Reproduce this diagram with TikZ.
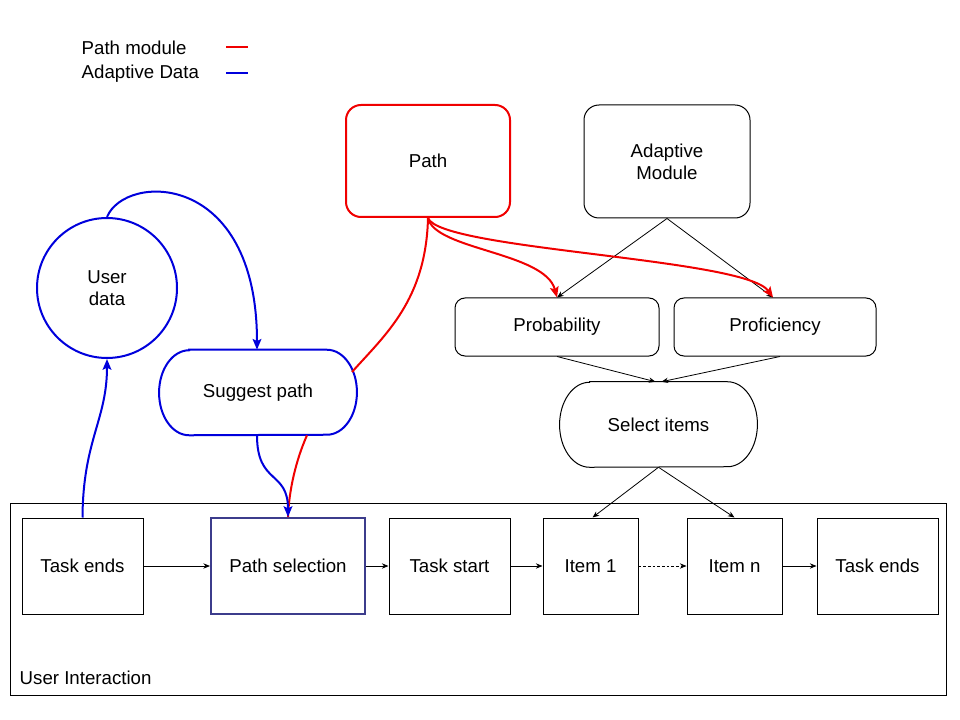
\documentclass[tikz,border=0pt]{standalone}
\usepackage{fontspec}
\setmainfont{Liberation Sans}
\usetikzlibrary{arrows.meta,calc}
\definecolor{pred}{RGB}{240,0,0}
\definecolor{pblue}{RGB}{0,0,220}
\definecolor{pselb}{RGB}{60,60,140}
\begin{document}
\begin{tikzpicture}[x=0.75pt,y=-0.75pt,
  font=\fontsize{14}{16.5}\selectfont,
  box/.style={draw, line width=0.75pt, inner sep=0pt, align=center, minimum height=72pt},
  rbox/.style={draw, line width=0.75pt, inner sep=0pt, align=center},
  ghost/.style={inner sep=0pt, align=center, minimum width=148pt, minimum height=63.75pt},
  arr/.style={-{Stealth[length=5pt,width=4pt]}, line width=0.6pt},
  redc/.style={pred, line width=1.5pt},
  bluec/.style={pblue, line width=1.5pt},
  carr/.style={-{Stealth[length=8pt,width=6.5pt,inset=1.5pt]}}
]
\useasboundingbox (0,0) rectangle (960,720);

% legend
\node[anchor=west] (lg1) at (77,48) {Path module};
\node[anchor=west] (lg2) at (77,74) {Adaptive Data};
\coordinate (l1a) at (226,47); \coordinate (l1b) at (248,47);
\coordinate (l2a) at (226,73); \coordinate (l2b) at (248,73);
\draw[pred, line width=1pt] (l1a) -- (l1b);
\draw[pblue, line width=1pt] (l2a) -- (l2b);

% user interaction frame
\node[draw, line width=0.75pt, minimum width=702pt, minimum height=144pt, inner sep=0pt] (ui) at (478,599) {};
\node[anchor=west] (uil) at (15,678) {User Interaction};

% top nodes
\node[rbox, draw=pred, line width=1.5pt, rounded corners=11.25pt, minimum width=123pt, minimum height=84pt] (path) at (428,161) {Path};
\node[rbox, rounded corners=11.25pt, minimum width=124.5pt, minimum height=84.75pt] (am) at (667,161.5) {Adaptive\\Module};
\node[draw=pblue, line width=1.5pt, circle, minimum size=105pt, inner sep=0pt, align=center] (ud) at (107,288) {User\\data};

\node[rbox, rounded corners=7.5pt, minimum width=153pt, minimum height=43.5pt] (prob) at (557,327) {Probability};
\node[rbox, rounded corners=7.5pt, minimum width=151.5pt, minimum height=43.5pt] (prof) at (775,327) {Proficiency};

% stadium nodes
\node[ghost] (sp) at (258,392.5) {Suggest path};
\draw[pblue, line width=1.5pt] ($(sp.north west)+(30,0)$) -- ($(sp.north east)+(-30,0)$)
  arc[start angle=90, end angle=-90, x radius=22.5pt, y radius=31.875pt]
  -- ($(sp.south west)+(30,0)$)
  arc[start angle=270, end angle=90, x radius=22.5pt, y radius=31.875pt] -- cycle;
\node[ghost] (si) at (658.5,424.5) {Select items};
\draw[line width=0.75pt] ($(si.north west)+(30,0)$) -- ($(si.north east)+(-30,0)$)
  arc[start angle=90, end angle=-90, x radius=22.5pt, y radius=31.875pt]
  -- ($(si.south west)+(30,0)$)
  arc[start angle=270, end angle=90, x radius=22.5pt, y radius=31.875pt] -- cycle;

% bottom row
\node[box, minimum width=90.75pt] (te1) at (82.5,566) {Task ends};
\node[box, draw=pselb, line width=1.5pt, minimum width=115.5pt] (ps) at (288,566) {Path selection};
\node[box, minimum width=90.75pt] (ts) at (449.5,566) {Task start};
\node[box, minimum width=71.25pt] (i1) at (590.5,566) {Item 1};
\node[box, minimum width=71.25pt] (in) at (734.5,566) {Item n};
\node[box, minimum width=90.75pt] (te2) at (877.5,566) {Task ends};

% black connectors
\draw[arr] (te1) -- (ps);
\draw[arr] (ps) -- (ts);
\draw[arr] (ts) -- (i1);
\draw[arr, dash pattern=on 2pt off 1.5pt] (i1) -- (in);
\draw[arr] (in) -- (te2);
\draw[arr] (am.south) -- (prob.north);
\draw[arr] (am.south) -- ($(prof.north)+(-2,0)$);
\draw[arr] (prob.south) -- ($(si.north)+(-3,0)$);
\draw[arr] ($(prof.south)+(5,0)$) -- ($(si.north)+(3,0)$);
\draw[arr] (si.south) -- ($(i1.north)+(2,0)$);
\draw[arr] (si.south) -- (in.north);

% red connectors
\draw[redc, carr] (path.south) .. controls (435,250) and (545,252) .. (prob.north);
\draw[redc, carr] (path.south) .. controls (440,250) and (745,258) .. ($(prof.north)+(-2,0)$);
\coordinate (spr) at (352,372);
\draw[redc] (path.south) .. controls (426,300) and (385,335) .. (spr);
\draw[redc] ($(sp.south)+(49,0)$) .. controls (296,460) and (289,490) .. (ps.north);

% blue connectors
\draw[bluec, carr] ($(sp.south)+(-1,0)$) .. controls (257,485) and (288,470) .. (ps.north);
\draw[bluec, carr] (te1.north) .. controls (83,440) and (107,420) .. (ud.south);
\draw[bluec, carr] (ud.north) .. controls (125,173) and (257,170) .. ($(sp.north)+(-1,0)$);
\end{tikzpicture}
\end{document}
